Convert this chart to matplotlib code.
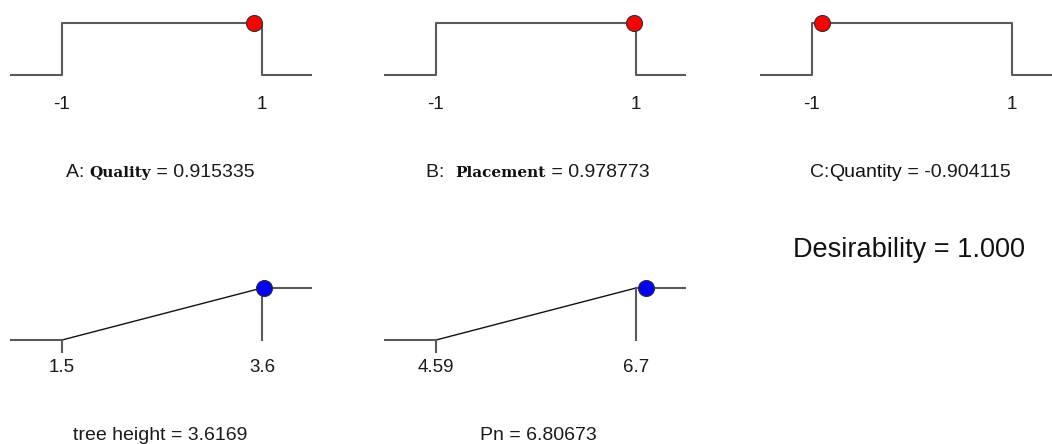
import matplotlib.pyplot as plt

# top row: factor settings (coded units)
factor_names = ["Quality", "Placement", "Quantity"]
factor_prefix = ["A: ", "B:  ", "C:"]
factor_lows = [-1, -1, -1]
factor_highs = [1, 1, 1]
factor_values = [0.915335, 0.978773, -0.904115]
factor_labels = ["0.915335", "0.978773", "-0.904115"]
factor_tick_labels = [["-1", "1"], ["-1", "1"], ["-1", "1"]]

# bottom row: responses
resp_names = ["tree height", "Pn"]
resp_lows = [1.5, 4.59]
resp_highs = [3.6, 6.7]
resp_values = [3.6169, 6.80673]
resp_labels = ["3.6169", "6.80673"]
resp_tick_labels = [["1.5", "3.6"], ["4.59", "6.7"]]

desirability = 1.000

W, H = 1052, 444
fig = plt.figure(figsize=(W / 100, H / 100), dpi=100)
plt.rcParams['font.family'] = ['Liberation Sans', 'DejaVu Sans']

line_col = "#5a5a5a"
txt_col = "#1a1a1a"
panel_x = [62, 436, 812]
label_cx = [160, 538, 910]


def make_axes(low_px, top_px, bottom_px, lo, hi, y0_px, y1_px):
    """Axes 300px wide, lo at low_px, hi 200px further right."""
    left = low_px - 51
    ax = fig.add_axes([left / W, 1 - bottom_px / H, 300 / W, (bottom_px - top_px) / H])
    span = hi - lo
    ax.set_xlim(lo - 51 / 200 * span, hi + 49 / 200 * span)
    ppu = y0_px - y1_px
    ax.set_ylim(0 - (bottom_px - y0_px) / ppu, 1 + (y1_px - top_px) / ppu)
    ax.axis("off")
    return ax


def label_pieces(x_px, y_px, pieces):
    """Draw text pieces side by side, centred on x_px."""
    r = fig.canvas.get_renderer()
    texts = []
    for s, kw in pieces:
        t = fig.text(0, 1 - y_px / H, s, va="baseline", ha="left", **kw)
        texts.append(t)
    widths = [t.get_window_extent(r).width for t in texts]
    x = x_px - sum(widths) / 2
    for t, w in zip(texts, widths):
        t.set_x(x / W)
        x += w


for i in range(3):
    lo, hi, v = factor_lows[i], factor_highs[i], factor_values[i]
    ax = make_axes(panel_x[i], 8, 92, lo, hi, 75, 23)
    xmin, xmax = ax.get_xlim()
    ax.plot([xmin, lo, lo, hi, hi, xmax], [0, 0, 1, 1, 0, 0],
            color=line_col, lw=1.5, clip_on=False)
    ax.plot([v], [1], "o", ms=11.5, mfc="red", mec="#303030", mew=0.8, clip_on=False)
    for xv, tl in zip([lo, hi], factor_tick_labels[i]):
        fig.text((panel_x[i] + 200 * (xv - lo) / (hi - lo)) / W, 1 - 104 / H, tl,
                 ha="center", va="center", fontsize=13.5, color=txt_col)
    serif = i < 2
    label_pieces(label_cx[i], 177, [
        (factor_prefix[i], dict(fontsize=14, color=txt_col)),
        (factor_names[i],
         dict(fontsize=11 if serif else 14, color="#111111",
              family="DejaVu Serif" if serif else "Liberation Sans",
              weight="bold" if serif else "normal")),
        (" = " + factor_labels[i], dict(fontsize=14, color=txt_col)),
    ])

for i in range(2):
    lo, hi, v = resp_lows[i], resp_highs[i], resp_values[i]
    ax = make_axes(panel_x[i], 275, 360, lo, hi, 340, 288)
    xmin, xmax = ax.get_xlim()
    ax.plot([xmin, lo], [0, 0], color=line_col, lw=1.5, clip_on=False)
    ax.plot([lo, hi], [0, 1], color="#111111", lw=1.0, clip_on=False)
    ax.plot([hi, xmax], [1, 1], color=line_col, lw=1.5, clip_on=False)
    ax.plot([hi, hi], [1, 0], color=line_col, lw=1.5, clip_on=False)
    ax.plot([lo, lo], [0, -0.23], color=line_col, lw=1.5, clip_on=False)
    ax.plot([v], [1], "o", ms=11.5, mfc="blue", mec="#303030", mew=0.8, clip_on=False)
    for xv, tl in zip([lo, hi], resp_tick_labels[i]):
        fig.text((panel_x[i] + 200 * (xv - lo) / (hi - lo)) / W, 1 - 368 / H, tl,
                 ha="center", va="center", fontsize=13.5, color=txt_col)
    fig.text(label_cx[i] / W, 1 - 435 / H, resp_names[i] + " = " + resp_labels[i],
             ha="center", va="center", fontsize=14, color=txt_col)

fig.text(909 / W, 1 - 250 / H, "Desirability = %.3f" % desirability,
         ha="center", va="center", fontsize=19.5, color="#111111")

fig.savefig("out.png", dpi=100)
